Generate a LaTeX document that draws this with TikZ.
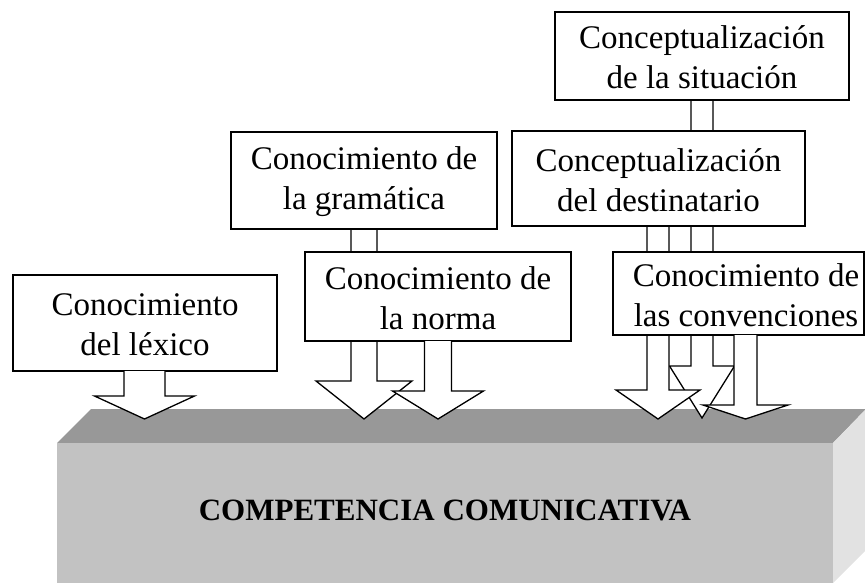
\documentclass[tikz,border=0pt]{standalone}
\usepackage{fontspec}
\setmainfont{Liberation Serif}
\definecolor{topface}{HTML}{989898}
\definecolor{frontface}{HTML}{C2C2C2}
\definecolor{sideface}{HTML}{E2E2E2}
\newcommand\blockarr[6]{%
  \filldraw[arr] (#1-#3,#2) -- (#1-#3,#4) -- (#1-#5,#4) -- (#1,#6) -- (#1+#5,#4) -- (#1+#3,#4) -- (#1+#3,#2);}
\begin{document}
\begin{tikzpicture}[x=1pt,y=-1pt,
  box/.style={draw=black, fill=white, line width=1.3pt, inner sep=0pt},
  txt/.style={align=center, inner sep=0pt, font=\fontsize{33}{40}\selectfont},
  arr/.style={draw=black, fill=white, line width=1.3pt, line join=miter}]
\useasboundingbox (0,0) rectangle (865,583);
\clip (0,0) rectangle (865,583);
% block
\fill[topface] (57,443) -- (91,409) -- (866,409) -- (833,443) -- cycle;
\fill[frontface] (57,443) rectangle (833,590);
\fill[sideface] (833,443) -- (866,409) -- (866,550) -- (833,583) -- (833,590) -- cycle;
\node[font=\fontsize{31}{36}\selectfont\bfseries, inner sep=0pt] (cc) at (445,510) {COMPETENCIA COMUNICATIVA};
% arrows behind boxes
\blockarr{702}{80}{11}{366}{32.5}{418}
\blockarr{364}{200}{13}{381}{48}{419}
\blockarr{658}{200}{11}{390}{42}{419}
% boxes
\node[box, minimum width=294, minimum height=88] (sit) at (702,56) {};
\node[txt] (sitt) at (702,57) {Conceptualización\\de la situación};
\node[box, minimum width=293, minimum height=95] (dest) at (658.5,178.5) {};
\node[txt] (destt) at (658.5,180) {Conceptualización\\del destinatario};
\node[box, minimum width=266, minimum height=97] (gram) at (364,180.5) {};
\node[txt] (gramt) at (364,182) {Conocimiento de\\la gramática};
\node[box, minimum width=266, minimum height=89] (norma) at (438,296.5) {};
\node[txt] (normat) at (438,298) {Conocimiento de\\la norma};
\node[box, minimum width=251, minimum height=83] (conv) at (738.5,293.5) {};
\node[txt] (convt) at (746,295) {Conocimiento de\\las convenciones};
\node[box, minimum width=264, minimum height=96] (lex) at (145,323) {};
\node[txt] (lext) at (145,325) {Conocimiento\\del léxico};
% arrows in front
\blockarr{438}{341}{13.5}{391}{45.5}{419}
\blockarr{745.5}{335}{11.5}{405}{42.5}{419}
\blockarr{144.5}{371}{20.5}{396}{50}{419}
\end{tikzpicture}
\end{document}
